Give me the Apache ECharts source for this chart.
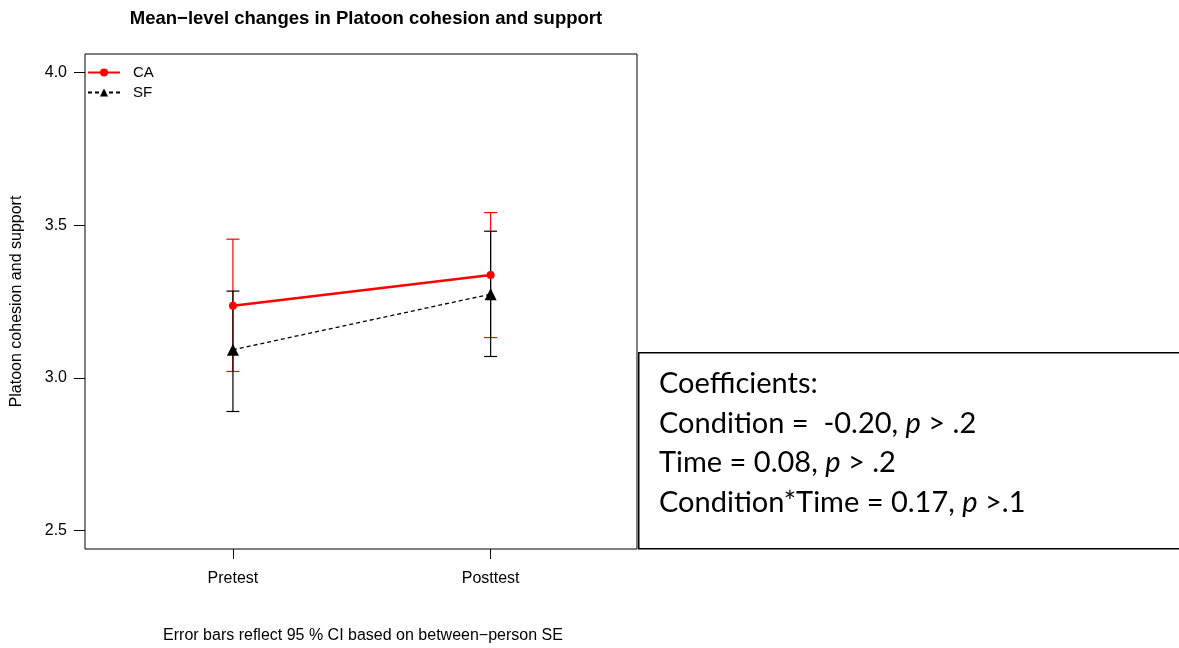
<!DOCTYPE html>
<html>
<head>
<meta charset="utf-8">
<script src="https://cdn.jsdelivr.net/npm/echarts@6/dist/echarts.min.js"></script>
<style>html,body{margin:0;padding:0;background:#fff;}#c{width:1179px;height:648px;}</style>
</head>
<body>
<div id="c"></div>
<script>
const categories = ['Pretest', 'Posttest'];
const xPositions = [1, 2];
const caMean = [3.236, 3.337];
const caLower = [3.021, 3.132];
const caUpper = [3.454, 3.541];
const sfMean = [3.092, 3.274];
const sfLower = [2.890, 3.070];
const sfUpper = [3.284, 3.480];
const yTicks = [2.5, 3.0, 3.5, 4.0];
const titleText = 'Mean\u2212level changes in Platoon cohesion and support';
const yLabel = 'Platoon cohesion and support';
const captionText = 'Error bars reflect 95 % CI based on between\u2212person SE';
const coefLines = [
  'Coefficients:',
  'Condition =  -0.20, {i|p} > .2',
  'Time = 0.08, {i|p} > .2',
  'Condition*Time = 0.17, {i|p} >.1'
];

const chart = echarts.init(document.getElementById('c'));
const FONT = 'Liberation Sans, Arial, sans-serif';
const CFONT = 'Lato, Noto Sans, sans-serif';

function errBar(color) {
  return function (params, api) {
    const x = api.value(0);
    const lo = api.coord([x, api.value(1)]);
    const hi = api.coord([x, api.value(2)]);
    const h = 6.5;
    const st = { stroke: color, lineWidth: 1.2 };
    return {
      type: 'group',
      children: [
        { type: 'line', shape: { x1: lo[0], y1: lo[1], x2: hi[0], y2: hi[1] }, style: st },
        { type: 'line', shape: { x1: lo[0] - h, y1: lo[1], x2: lo[0] + h, y2: lo[1] }, style: st },
        { type: 'line', shape: { x1: hi[0] - h, y1: hi[1], x2: hi[0] + h, y2: hi[1] }, style: st }
      ]
    };
  };
}

const option = {
  backgroundColor: '#fff',
  animation: false,
  title: {
    text: titleText,
    left: 361, top: 4, textAlign: 'center',
    textStyle: { fontFamily: FONT, fontSize: 18.5, fontWeight: 'bold', color: '#000' }
  },
  legend: {
    data: ['CA', 'SF'],
    orient: 'vertical',
    left: 87, top: 65,
    padding: 0,
    itemWidth: 32, itemHeight: 10, itemGap: 5,
    textStyle: { fontFamily: FONT, fontSize: 15, lineHeight: 15, color: '#000', padding: [0, 0, 0, 8] }
  },
  grid: {
    left: 85, top: 54, right: 542, bottom: 99,
    show: true, borderColor: '#000', borderWidth: 1, backgroundColor: 'transparent'
  },
  xAxis: {
    type: 'value', min: 0.426, max: 2.568,
    axisLine: { show: false },
    splitLine: { show: false },
    axisTick: { show: true, customValues: xPositions, length: 10, lineStyle: { color: '#000' } },
    axisLabel: {
      customValues: xPositions, margin: 22,
      formatter: v => categories[Math.round(v) - 1] || '',
      fontFamily: FONT, fontSize: 16, color: '#000'
    }
  },
  yAxis: {
    type: 'value', min: 2.44, max: 4.06,
    name: yLabel, nameLocation: 'middle', nameGap: 60, nameRotate: 90,
    nameTextStyle: { fontFamily: FONT, fontSize: 16, color: '#000' },
    axisLine: { show: false },
    splitLine: { show: false },
    axisTick: { show: true, customValues: yTicks, length: 11, lineStyle: { color: '#000' } },
    axisLabel: {
      customValues: yTicks, margin: 18,
      formatter: v => v.toFixed(1),
      fontFamily: FONT, fontSize: 16, color: '#000'
    }
  },
  graphic: [
    {
      type: 'text', x: 363, y: 636,
      style: { text: captionText, textAlign: 'center', textVerticalAlign: 'middle',
        font: '16px Liberation Sans, Arial, sans-serif', fill: '#000' }
    },
    {
      type: 'rect', left: 638, top: 352,
      shape: { width: 560, height: 196 },
      style: { fill: '#fff', stroke: '#000', lineWidth: 1.5 }
    },
    {
      type: 'text', left: 659, top: 364,
      style: {
        text: coefLines.join('\n'),
        fontFamily: CFONT, fontSize: 29, lineHeight: 39.5, fill: '#000',
        rich: { i: { fontStyle: 'italic', fontFamily: CFONT, fontSize: 29, lineHeight: 39.5 } }
      }
    }
  ],
  series: [
    {
      name: 'CA-err', type: 'custom', renderItem: errBar('#ff0000'),
      data: xPositions.map((x, i) => [x, caLower[i], caUpper[i]]), z: 2
    },
    {
      name: 'SF-err', type: 'custom', renderItem: errBar('#000000'),
      data: xPositions.map((x, i) => [x, sfLower[i], sfUpper[i]]), z: 3
    },
    {
      name: 'CA', type: 'line',
      data: xPositions.map((x, i) => [x, caMean[i]]),
      symbol: 'circle', symbolSize: 8,
      itemStyle: { color: '#ff0000' },
      lineStyle: { color: '#ff0000', width: 2.5 },
      z: 4
    },
    {
      name: 'SF', type: 'line',
      data: xPositions.map((x, i) => [x, sfMean[i]]),
      symbol: 'triangle', symbolSize: 12,
      itemStyle: { color: '#000' },
      lineStyle: { color: '#000', width: 1.3, type: [4, 3] },
      z: 5
    }
  ]
};
chart.setOption(option);
</script>
</body>
</html>
